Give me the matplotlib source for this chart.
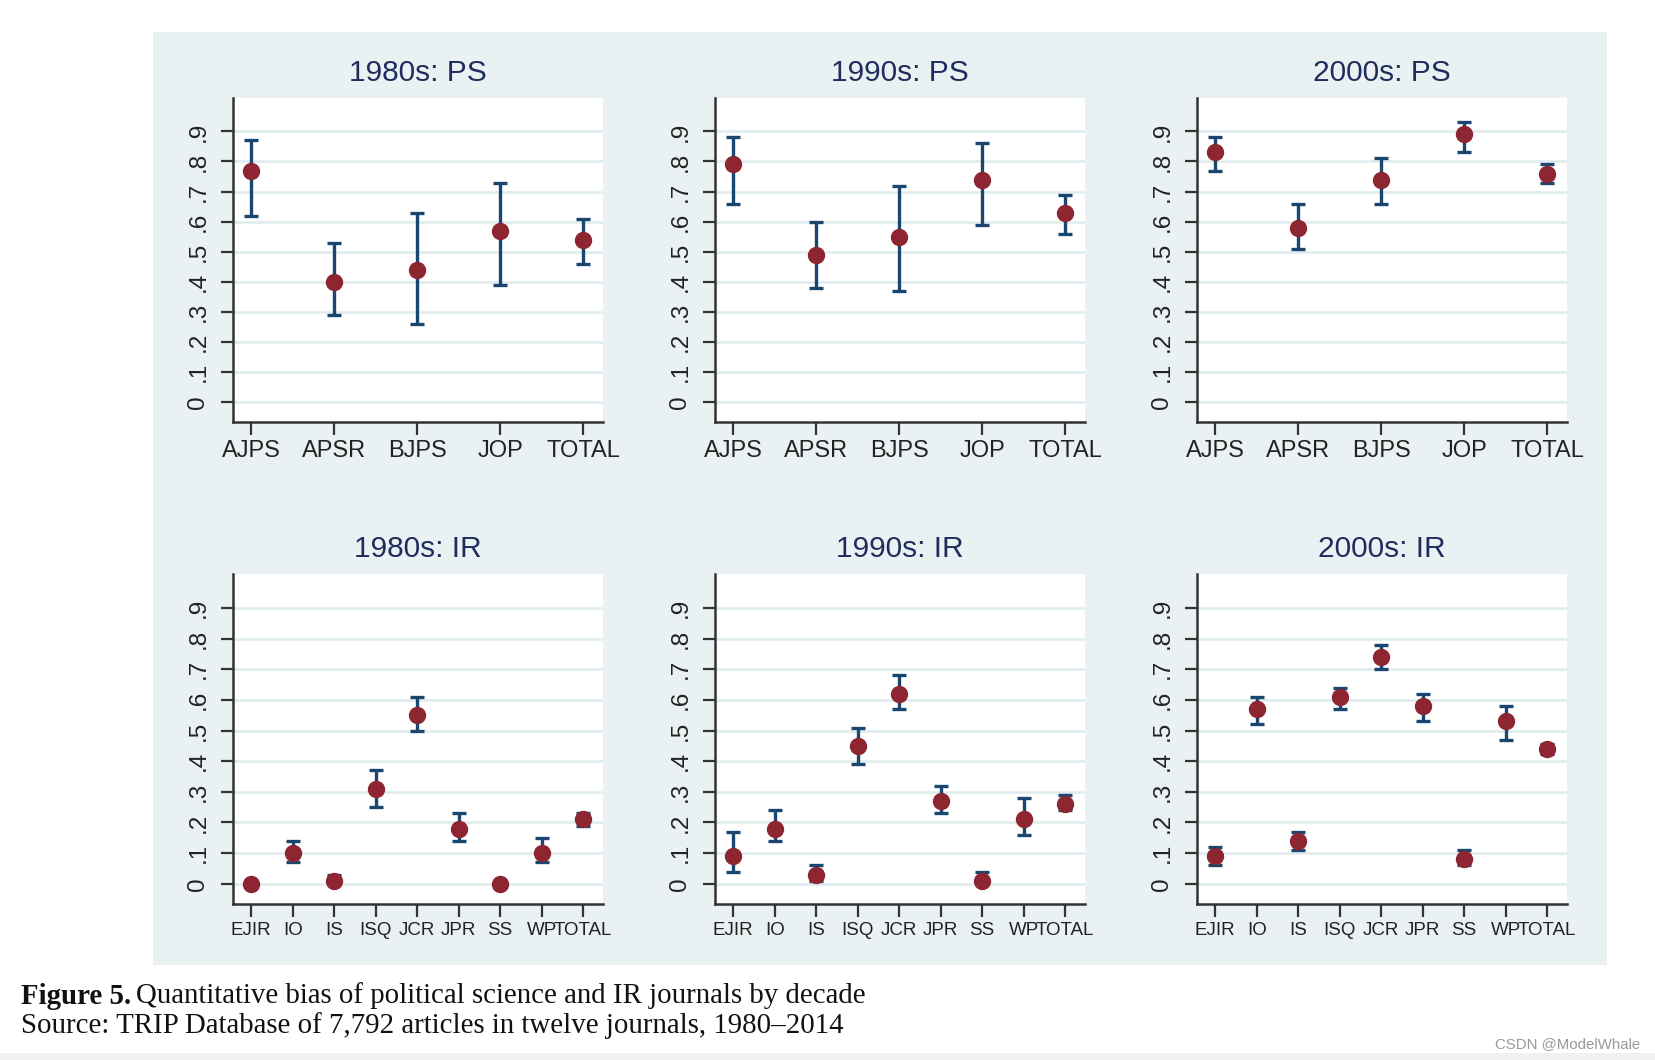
import matplotlib
matplotlib.use('Agg')
import matplotlib.pyplot as plt
from matplotlib.patches import Rectangle
import numpy as np

# journal names
ps_journals = ['AJPS', 'APSR', 'BJPS', 'JOP', 'TOTAL']
ir_journals = ['EJIR', 'IO', 'IS', 'ISQ', 'JCR', 'JPR', 'SS', 'WP', 'TOTAL']

# PS: point estimate, lower and upper bound
ps_1980_mean = [0.77, 0.40, 0.44, 0.57, 0.54]
ps_1980_lo = [0.62, 0.29, 0.26, 0.39, 0.46]
ps_1980_hi = [0.87, 0.53, 0.63, 0.73, 0.61]
ps_1990_mean = [0.79, 0.49, 0.55, 0.74, 0.63]
ps_1990_lo = [0.66, 0.38, 0.37, 0.59, 0.56]
ps_1990_hi = [0.88, 0.60, 0.72, 0.86, 0.69]
ps_2000_mean = [0.83, 0.58, 0.74, 0.89, 0.76]
ps_2000_lo = [0.77, 0.51, 0.66, 0.83, 0.73]
ps_2000_hi = [0.88, 0.66, 0.81, 0.93, 0.79]

# IR
ir_1980_mean = [0.00, 0.10, 0.01, 0.31, 0.55, 0.18, 0.00, 0.10, 0.21]
ir_1980_lo = [0.00, 0.07, 0.00, 0.25, 0.50, 0.14, 0.00, 0.07, 0.19]
ir_1980_hi = [0.00, 0.14, 0.03, 0.37, 0.61, 0.23, 0.00, 0.15, 0.23]
ir_1990_mean = [0.09, 0.18, 0.03, 0.45, 0.62, 0.27, 0.01, 0.21, 0.26]
ir_1990_lo = [0.04, 0.14, 0.01, 0.39, 0.57, 0.23, 0.00, 0.16, 0.24]
ir_1990_hi = [0.17, 0.24, 0.06, 0.51, 0.68, 0.32, 0.04, 0.28, 0.29]
ir_2000_mean = [0.09, 0.57, 0.14, 0.61, 0.74, 0.58, 0.08, 0.53, 0.44]
ir_2000_lo = [0.06, 0.52, 0.11, 0.57, 0.70, 0.53, 0.06, 0.47, 0.425]
ir_2000_hi = [0.12, 0.61, 0.17, 0.64, 0.78, 0.62, 0.11, 0.58, 0.455]

yticks = [0, 0.1, 0.2, 0.3, 0.4, 0.5, 0.6, 0.7, 0.8, 0.9]
ytick_labels = ['0', '.1', '.2', '.3', '.4', '.5', '.6', '.7', '.8', '.9']

panels = [
    ('1980s: PS', ps_journals, ps_1980_mean, ps_1980_lo, ps_1980_hi),
    ('1990s: PS', ps_journals, ps_1990_mean, ps_1990_lo, ps_1990_hi),
    ('2000s: PS', ps_journals, ps_2000_mean, ps_2000_lo, ps_2000_hi),
    ('1980s: IR', ir_journals, ir_1980_mean, ir_1980_lo, ir_1980_hi),
    ('1990s: IR', ir_journals, ir_1990_mean, ir_1990_lo, ir_1990_hi),
    ('2000s: IR', ir_journals, ir_2000_mean, ir_2000_lo, ir_2000_hi),
]

plt.rcParams['font.family'] = ['Liberation Sans', 'DejaVu Sans']

W, H = 1656, 1060
fig = plt.figure(figsize=(W / 100, H / 100), dpi=100)

# Stata-like graph region
fig.patches.append(Rectangle((153 / W, 1 - 965 / H), (1607 - 153) / W, (965 - 32) / H,
                             transform=fig.transFigure, facecolor='#eaf1f3',
                             edgecolor='none', zorder=-1))
fig.patches.append(Rectangle((0, 0), 1, 7 / H, transform=fig.transFigure,
                             facecolor='#f1f1f1', edgecolor='none', zorder=-1))

col_left = [233, 715, 1197]
row_top = [98, 574]
row_bottom = [422, 904]
ax_w = 370

navy = '#1a476f'
maroon = '#8e2632'

for i, (title, labels, mean, lo, hi) in enumerate(panels):
    r, c = divmod(i, 3)
    ax = fig.add_axes([col_left[c] / W, 1 - row_bottom[r] / H, ax_w / W,
                       (row_bottom[r] - row_top[r]) / H])
    ax.set_facecolor('white')
    x = np.arange(1, len(labels) + 1)
    mean = np.array(mean)
    err = [mean - np.array(lo), np.array(hi) - mean]
    ax.errorbar(x, mean, yerr=err, fmt='none', ecolor=navy, elinewidth=2.4,
                capsize=5, capthick=2.4, zorder=3)
    ax.plot(x, mean, 'o', color=maroon, markersize=11.5, zorder=4)

    ax.set_ylim(-0.066, 1.011)
    if len(labels) == 5:
        ax.set_xlim(0.78, 5.24)
        xfs = 17
    else:
        ax.set_xlim(0.56, 9.48)
        xfs = 13.5
    ax.set_xticks(x)
    ax.set_xticklabels(labels, fontsize=xfs, color='#222222')
    ax.set_yticks(yticks)
    ax.set_yticklabels(ytick_labels, fontsize=17.5, rotation=90, va='center',
                       color='#222222')
    ax.tick_params(axis='both', length=9, width=1.6, color='#333333')
    ax.tick_params(axis='x', pad=4)
    ax.tick_params(axis='y', pad=8)
    for side in ['top', 'right']:
        ax.spines[side].set_visible(False)
    for side in ['left', 'bottom']:
        ax.spines[side].set_color('#333333')
        ax.spines[side].set_linewidth(1.8)
    ax.grid(axis='y', color='#dfebef', linewidth=1.8)
    ax.set_axisbelow(True)
    ax.annotate(title, xy=(0.5, 1), xycoords='axes fraction', xytext=(0, 18),
                textcoords='offset points', ha='center', va='center',
                fontsize=21.5, color='#1f2d5c')

# caption
serif = ['Liberation Serif', 'DejaVu Serif']
cap_fs = 20.8
fig.text(21 / W, 1 - 996 / H, 'Figure 5.', fontsize=cap_fs, fontweight='bold',
         family=serif, va='center', ha='left', color='#111111')
fig.text(136 / W, 1 - 996 / H, 'Quantitative bias of political science and IR journals by decade',
         fontsize=cap_fs, family=serif, va='center', ha='left', color='#111111')
fig.text(21 / W, 1 - 1026 / H, 'Source: TRIP Database of 7,792 articles in twelve journals, 1980\u20132014',
         fontsize=cap_fs, family=serif, va='center', ha='left', color='#111111')

fig.text(1640 / W, 1 - 1044 / H, 'CSDN @ModelWhale', fontsize=10.8, color='#9a9a9a',
         ha='right', va='center')

fig.savefig('out.png', dpi=100)
